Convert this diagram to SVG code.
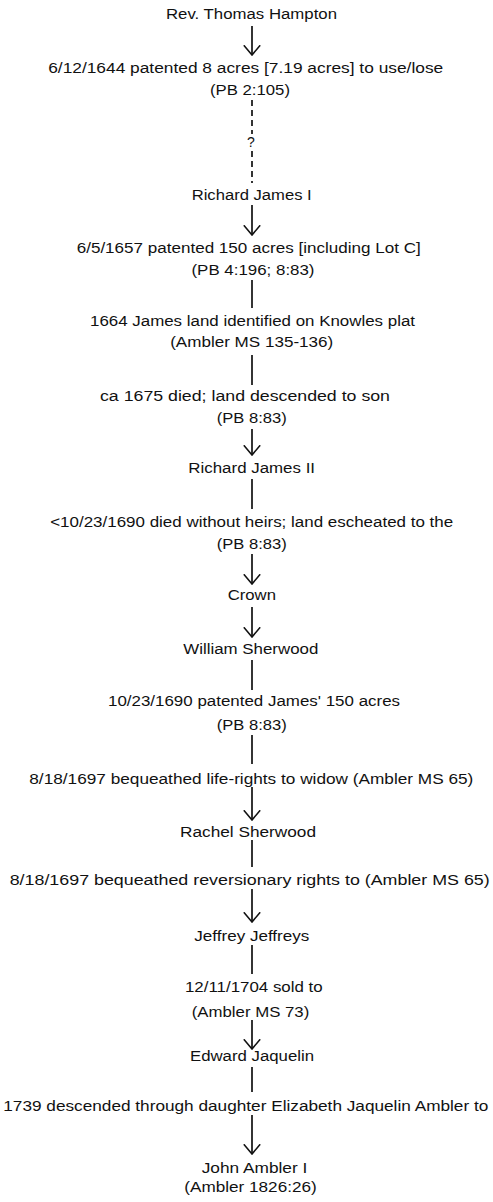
<svg xmlns="http://www.w3.org/2000/svg" width="493" height="1202" viewBox="0 0 493 1202">
<style>
.t{font-family:"Liberation Sans",Arial,Helvetica,sans-serif;font-size:14px;fill:#111;text-anchor:middle}
.c{stroke:#111;stroke-width:1.7;fill:none}
.d{stroke-dasharray:6,4}
</style>
<defs>
<marker id="ah" viewBox="0 0 11 18" refX="10.2" refY="9" markerWidth="11" markerHeight="18" markerUnits="userSpaceOnUse" orient="auto">
<path d="M0.5,0.8 L10.2,9 L0.5,17.2" fill="none" stroke="#111" stroke-width="1.6"/>
</marker>
</defs>
<rect width="493" height="1202" fill="#fff"/>
<g id="connectors">
<line class="c" x1="252" y1="26" x2="252" y2="55" marker-end="url(#ah)"/>
<line class="c d" x1="252" y1="100" x2="252" y2="134"/>
<line class="c d" x1="252" y1="151" x2="252" y2="183"/>
<line class="c" x1="252" y1="205" x2="252" y2="235" marker-end="url(#ah)"/>
<line class="c" x1="252" y1="280" x2="252" y2="308"/>
<line class="c" x1="252" y1="355" x2="252" y2="385"/>
<line class="c" x1="252" y1="429" x2="252" y2="455" marker-end="url(#ah)"/>
<line class="c" x1="252" y1="479" x2="252" y2="509"/>
<line class="c" x1="252" y1="554" x2="252" y2="584" marker-end="url(#ah)"/>
<line class="c" x1="252" y1="607" x2="252" y2="637" marker-end="url(#ah)"/>
<line class="c" x1="252" y1="660" x2="252" y2="690"/>
<line class="c" x1="252" y1="735" x2="252" y2="764"/>
<line class="c" x1="252" y1="787" x2="252" y2="820" marker-end="url(#ah)"/>
<line class="c" x1="252" y1="840" x2="252" y2="867"/>
<line class="c" x1="252" y1="889" x2="252" y2="922" marker-end="url(#ah)"/>
<line class="c" x1="252" y1="945" x2="252" y2="974"/>
<line class="c" x1="252" y1="1020" x2="252" y2="1049" marker-end="url(#ah)"/>
<line class="c" x1="252" y1="1067" x2="252" y2="1092"/>
<line class="c" x1="252" y1="1115" x2="252" y2="1154" marker-end="url(#ah)"/>
</g>
<g id="n-hampton"><text class="t" x="251.5" y="19" textLength="171" lengthAdjust="spacingAndGlyphs">Rev. Thomas Hampton</text></g>
<g id="n-1644"><text class="t" x="245.7" y="73" textLength="395" lengthAdjust="spacingAndGlyphs">6/12/1644 patented 8 acres [7.19 acres] to use/lose</text>
<text class="t" x="250" y="95" textLength="80" lengthAdjust="spacingAndGlyphs">(PB 2:105)</text></g>
<g id="n-q"><text class="t" x="251" y="147">?</text></g>
<g id="n-rj1"><text class="t" x="251.7" y="200" textLength="120" lengthAdjust="spacingAndGlyphs">Richard James I</text></g>
<g id="n-1657"><text class="t" x="248.7" y="253" textLength="344" lengthAdjust="spacingAndGlyphs">6/5/1657 patented 150 acres [including Lot C]</text>
<text class="t" x="253" y="275" textLength="123" lengthAdjust="spacingAndGlyphs">(PB 4:196; 8:83)</text></g>
<g id="n-1664"><text class="t" x="252.5" y="326" textLength="325" lengthAdjust="spacingAndGlyphs">1664 James land identified on Knowles plat</text>
<text class="t" x="251.7" y="347" textLength="163" lengthAdjust="spacingAndGlyphs">(Ambler MS 135-136)</text></g>
<g id="n-1675"><text class="t" x="245" y="401" textLength="290" lengthAdjust="spacingAndGlyphs">ca 1675 died; land descended to son</text>
<text class="t" x="251.7" y="423" textLength="70" lengthAdjust="spacingAndGlyphs">(PB 8:83)</text></g>
<g id="n-rj2"><text class="t" x="251.7" y="473" textLength="126.7" lengthAdjust="spacingAndGlyphs">Richard James II</text></g>
<g id="n-1690a"><text class="t" x="251.7" y="527" textLength="403" lengthAdjust="spacingAndGlyphs">&lt;10/23/1690 died without heirs; land escheated to the</text>
<text class="t" x="251.7" y="549" textLength="70" lengthAdjust="spacingAndGlyphs">(PB 8:83)</text></g>
<g id="n-crown"><text class="t" x="251.8" y="600" textLength="48.3" lengthAdjust="spacingAndGlyphs">Crown</text></g>
<g id="n-wsherwood"><text class="t" x="250.8" y="654" textLength="135" lengthAdjust="spacingAndGlyphs">William Sherwood</text></g>
<g id="n-1690b"><text class="t" x="254" y="706" textLength="292" lengthAdjust="spacingAndGlyphs">10/23/1690 patented James' 150 acres</text>
<text class="t" x="251.7" y="730" textLength="70" lengthAdjust="spacingAndGlyphs">(PB 8:83)</text></g>
<g id="n-1697a"><text class="t" x="251.3" y="784" textLength="444" lengthAdjust="spacingAndGlyphs">8/18/1697 bequeathed life-rights to widow (Ambler MS 65)</text></g>
<g id="n-rsherwood"><text class="t" x="248" y="837" textLength="136" lengthAdjust="spacingAndGlyphs">Rachel Sherwood</text></g>
<g id="n-1697b"><text class="t" x="249.7" y="885" textLength="480" lengthAdjust="spacingAndGlyphs">8/18/1697 bequeathed reversionary rights to (Ambler MS 65)</text></g>
<g id="n-jeffreys"><text class="t" x="251.8" y="941" textLength="115" lengthAdjust="spacingAndGlyphs">Jeffrey Jeffreys</text></g>
<g id="n-1704"><text class="t" x="253.8" y="992" textLength="137.7" lengthAdjust="spacingAndGlyphs">12/11/1704 sold to</text>
<text class="t" x="250.5" y="1017" textLength="117.6" lengthAdjust="spacingAndGlyphs">(Ambler MS 73)</text></g>
<g id="n-jaquelin"><text class="t" x="252" y="1061" textLength="124" lengthAdjust="spacingAndGlyphs">Edward Jaquelin</text></g>
<g id="n-1739"><text class="t" x="245.8" y="1111" textLength="485" lengthAdjust="spacingAndGlyphs">1739 descended through daughter Elizabeth Jaquelin Ambler to</text></g>
<g id="n-ambler"><text class="t" x="254.5" y="1173" textLength="105.6" lengthAdjust="spacingAndGlyphs">John Ambler I</text>
<text class="t" x="250.5" y="1192" textLength="132.4" lengthAdjust="spacingAndGlyphs">(Ambler 1826:26)</text></g>
</svg>
